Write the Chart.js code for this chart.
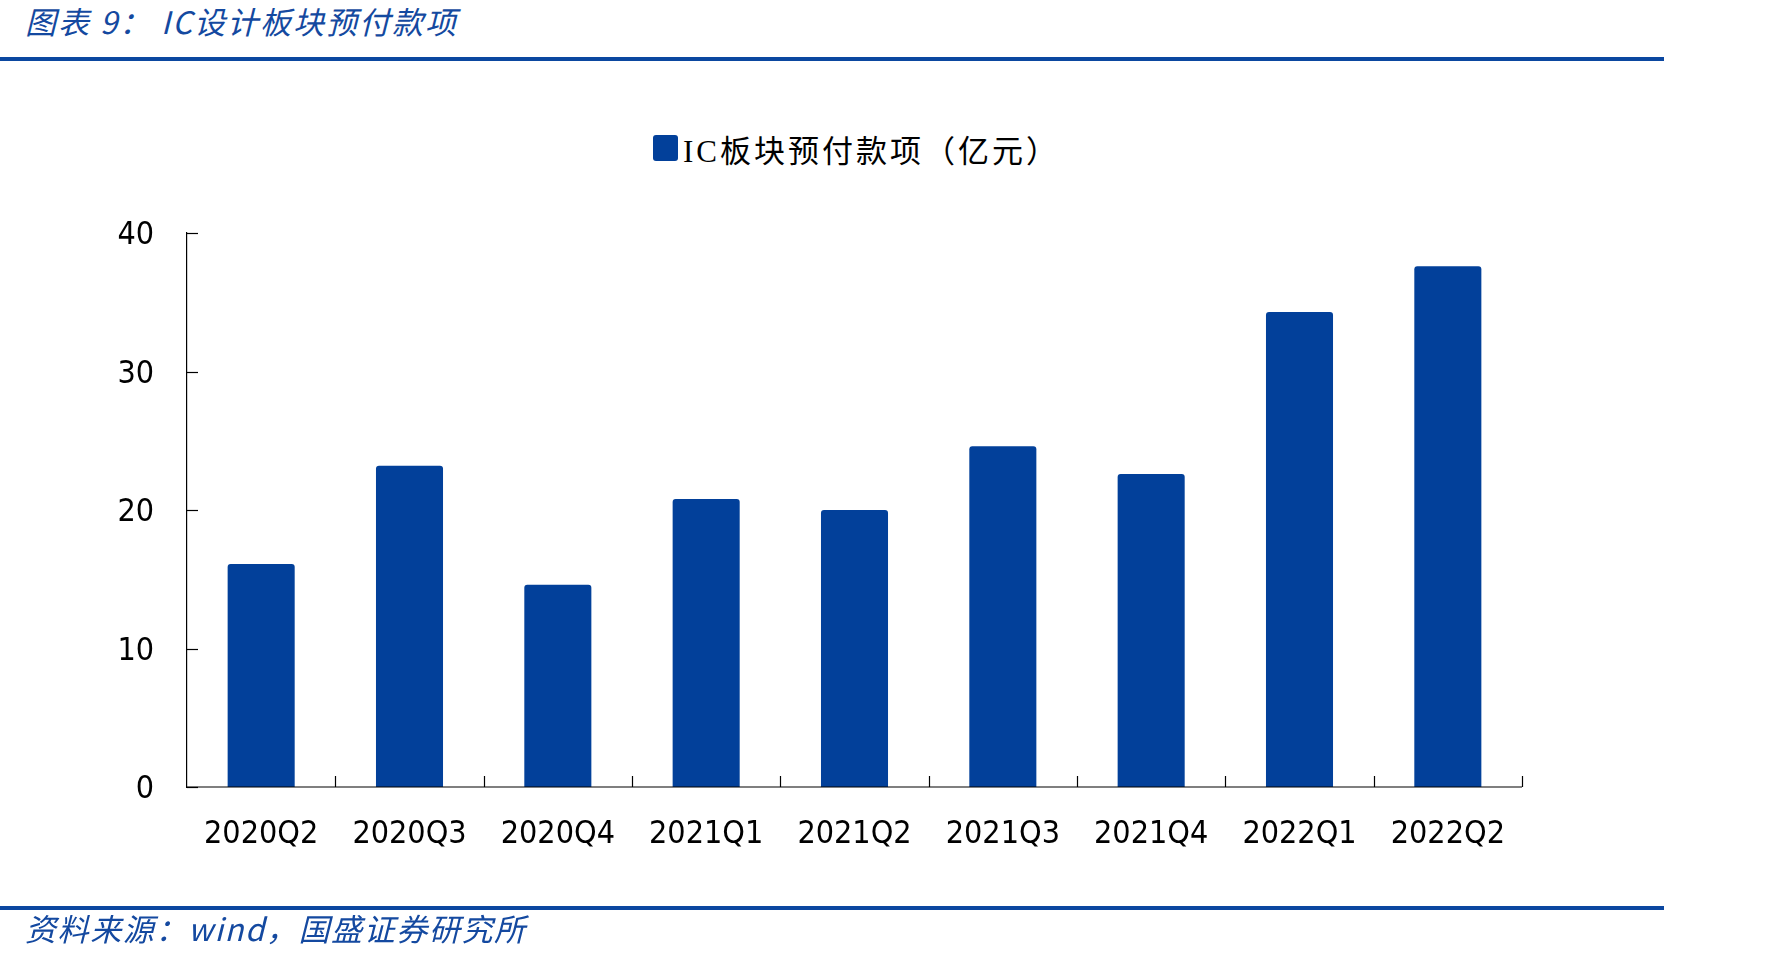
<!DOCTYPE html>
<html>
<head>
<meta charset="utf-8">
<script src="https://cdn.jsdelivr.net/npm/chart.js@4.4.1/dist/chart.umd.min.js"></script>
<style>
  html, body { margin: 0; padding: 0; background: #ffffff; width: 1784px; height: 961px; overflow: hidden; }
  #wrap { position: relative; width: 1784px; height: 961px; }
  #c { position: absolute; left: 0; top: 0; }
  .title { position: absolute; left: 25px; top: 1px; font-family: "Noto Sans CJK SC", sans-serif; font-style: italic; font-size: 31px; color: #1449A0; line-height: 40px; white-space: pre; letter-spacing: 2px; }
  .footer { position: absolute; left: 25px; top: 908px; font-family: "Noto Sans CJK SC", sans-serif; font-style: italic; font-size: 31px; color: #1449A0; line-height: 40px; white-space: pre; letter-spacing: 1.6px; }
  .rule { position: absolute; left: 0; width: 1664px; height: 4px; background: #0B47A0; }
  .legend { position: absolute; left: 653px; top: 128px; height: 40px; display: flex; align-items: center; white-space: nowrap; }
  .legend .box { width: 25px; height: 26px; background: #02409A; border-radius: 3px; margin-right: 5px; }
  .legend .txt { font-family: "Liberation Serif", "Noto Sans CJK SC", serif; font-size: 31px; color: #000; letter-spacing: 3px; }
</style>
</head>
<body>
<div id="wrap">
  <div class="title">图表 9： IC设计板块预付款项</div>
  <div class="rule" style="top:57px;"></div>
  <div class="legend"><div class="box"></div><div class="txt" id="legendText"></div></div>
  <canvas id="c" width="1784" height="961"></canvas>
  <div class="rule" style="top:906px;"></div>
  <div class="footer">资料来源：wind，国盛证券研究所</div>
</div>
<script>
const categories = ["2020Q2", "2020Q3", "2020Q4", "2021Q1", "2021Q2", "2021Q3", "2021Q4", "2022Q1", "2022Q2"];
const seriesName = "IC板块预付款项（亿元）";
const prepayments = [16.1, 23.2, 14.6, 20.8, 20.0, 24.6, 22.6, 34.3, 37.6];
const yTicks = [0, 10, 20, 30, 40];

document.getElementById('legendText').textContent = seriesName;

const tickFont = { family: "'DejaVu Sans Condensed', 'DejaVu Sans', sans-serif", size: 32 };

const axisPlugin = {
  id: 'axisTicks',
  afterDatasetsDraw(chart) {
    const ctx = chart.ctx;
    const xs = chart.scales.x, ys = chart.scales.y;
    const area = chart.chartArea;
    const y0 = ys.getPixelForValue(0);
    ctx.save();
    ctx.strokeStyle = '#000';
    ctx.lineWidth = 1.2;
    ctx.beginPath();
    ctx.moveTo(area.left, y0);
    ctx.lineTo(area.right, y0);
    ctx.stroke();
    const n = categories.length;
    for (let i = 1; i <= n; i++) {
      let bx;
      if (i === n) bx = area.right;
      else bx = (xs.getPixelForValue(i - 1) + xs.getPixelForValue(i)) / 2;
      bx = Math.round(bx) + 0.5;
      ctx.beginPath();
      ctx.moveTo(bx, y0);
      ctx.lineTo(bx, y0 - 11);
      ctx.stroke();
    }
    yTicks.forEach(v => {
      const py = Math.round(ys.getPixelForValue(v)) + 0.5;
      ctx.beginPath();
      ctx.moveTo(area.left, py);
      ctx.lineTo(area.left + 11, py);
      ctx.stroke();
    });
    ctx.restore();
  }
};

new Chart(document.getElementById('c'), {
  type: 'bar',
  data: {
    labels: categories,
    datasets: [{
      label: seriesName,
      data: prepayments,
      backgroundColor: '#02409A',
      borderWidth: 0,
      borderRadius: { topLeft: 3, topRight: 3, bottomLeft: 0, bottomRight: 0 },
      borderSkipped: 'start',
      categoryPercentage: 1.0,
      barPercentage: 0.452
    }]
  },
  options: {
    responsive: false,
    devicePixelRatio: 1,
    animation: false,
    layout: { padding: { left: 0, top: 233, right: 262, bottom: 0 } },
    plugins: {
      legend: { display: false },
      title: { display: false },
      tooltip: { enabled: false }
    },
    scales: {
      x: {
        offset: true,
        grid: { display: false, drawTicks: false },
        border: { display: false },
        ticks: { color: '#000', font: tickFont, padding: 28, maxRotation: 0, autoSkip: false },
        afterFit(s) { s.height = 174; s.paddingLeft = 0; s.paddingRight = 0; }
      },
      y: {
        min: 0,
        max: 40,
        afterBuildTicks(s) { s.ticks = yTicks.map(v => ({ value: v })); },
        grid: { display: false, drawTicks: false },
        border: { display: true, color: '#000', width: 1.2 },
        ticks: { color: '#000', font: tickFont, padding: 33, labelOffset: 3 },
        afterFit(s) { s.width = 187; s.paddingTop = 0; s.paddingBottom = 0; }
      }
    }
  },
  plugins: [axisPlugin]
});
</script>
</body>
</html>
